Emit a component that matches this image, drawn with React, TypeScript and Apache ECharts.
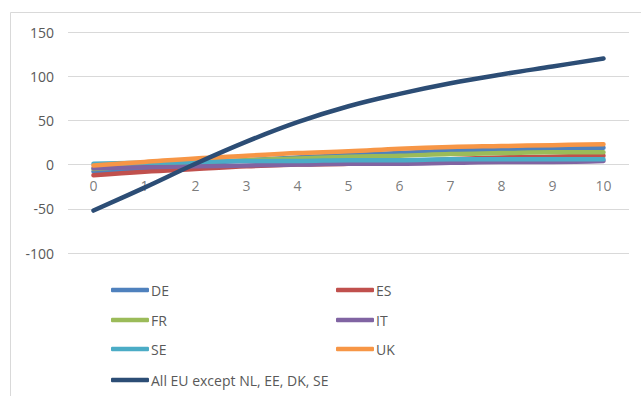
import React, { useEffect, useRef } from "react";
import * as echarts from "echarts";

const categories = ["0", "1", "2", "3", "4", "5", "6", "7", "8", "9", "10"];
const yTicks = [-100, -50, 0, 50, 100, 150];

const deValues = [-8, -4, 1, 5, 8, 11, 13, 16, 17, 18, 19];
const esValues = [-12, -8, -5, -2, 0, 1, 3, 6, 8, 9, 10];
const frValues = [-5, -1, 3, 5, 7, 9, 10, 12, 13, 14, 14];
const itValues = [-4, -3, -2, -1, 0, 1, 1, 2, 3, 3, 4];
const seValues = [1, 2, 3, 4, 4, 5, 5, 6, 6, 6, 6];
const ukValues = [-1, 3, 7, 10, 13, 15, 18, 20, 21, 22, 23];
const euValues = [-52, -26, 1, 26, 48, 66, 80, 92, 102, 111, 120];

const seriesNames = ["DE", "ES", "FR", "IT", "SE", "UK", "All EU except NL, EE, DK, SE"];
const seriesValues = [deValues, esValues, frValues, itValues, seValues, ukValues, euValues];
const seriesColors = ["#4F81BD", "#C0504D", "#9BBB59", "#8064A2", "#4BACC6", "#F79646", "#2C4D75"];

const FONT = "'Open Sans', 'Liberation Sans', sans-serif";
const TEXT_COLOR = "#595959";

// legend slot positions (left, top) for each series
const legendSlots: [number, number][] = [
  [111, 283],
  [336, 283],
  [111, 313],
  [336, 313],
  [111, 342],
  [336, 342],
  [111, 373],
];

export default function App() {
  const ref = useRef<HTMLDivElement>(null);

  useEffect(() => {
    if (!ref.current) return;
    const chart = echarts.init(ref.current, null, { renderer: "svg" });
    const lineSeries = seriesNames.map((name, i) => ({
      name,
      type: "line",
      data: seriesValues[i],
      smooth: 0.4,
      showSymbol: false,
      symbol: "none",
      color: seriesColors[i],
      lineStyle: { color: seriesColors[i], width: 4.5, cap: "round", join: "round" },
      itemStyle: { color: seriesColors[i] },
      z: 3,
    }));
    // category labels sitting on the zero line (Excel style axis crossing at 0)
    const zeroLabels = {
      name: "axis-labels",
      type: "scatter",
      silent: true,
      symbolSize: 0.1,
      itemStyle: { color: "rgba(0,0,0,0)" },
      data: categories.map((c) => ({ name: c, value: [c, 0] })),
      label: {
        show: true,
        position: "bottom",
        distance: 14,
        formatter: "{b}",
        color: TEXT_COLOR,
        fontSize: 14,
        fontFamily: FONT,
      },
      z: 1,
    };
    chart.setOption({
      animation: false,
      backgroundColor: "#ffffff",
      textStyle: { fontFamily: FONT },
      graphic: [
        {
          type: "rect",
          shape: { x: 10.5, y: 12.5, width: 660, height: 400 },
          style: { fill: "none", stroke: "#d9d9d9", lineWidth: 1 },
          silent: true,
          z: -1,
        },
      ],
      grid: { left: 68, right: 12, top: 32, bottom: 143, containLabel: false },
      xAxis: {
        type: "category",
        data: categories,
        boundaryGap: true,
        axisLine: { show: false },
        axisTick: { show: false },
        axisLabel: { show: false },
        splitLine: { show: false },
      },
      yAxis: {
        type: "value",
        min: yTicks[0],
        max: yTicks[yTicks.length - 1],
        interval: 50,
        axisLine: { show: false },
        axisTick: { show: false },
        axisLabel: { color: TEXT_COLOR, fontSize: 14, fontFamily: FONT, margin: 14 },
        splitLine: { lineStyle: { color: "#d9d9d9", width: 1 } },
      },
      legend: seriesNames.map((name, i) => ({
        data: [name],
        left: legendSlots[i][0],
        top: legendSlots[i][1],
        padding: 0,
        icon: "roundRect",
        itemWidth: 38,
        itemHeight: 4.5,
        selectedMode: false,
        textStyle: { color: TEXT_COLOR, fontSize: 14, fontFamily: FONT, padding: [0, 0, 0, -3] },
      })),
      series: [zeroLabels, ...lineSeries],
    });
    return () => chart.dispose();
  }, []);

  return (
    <div
      ref={ref}
      style={{ position: "fixed", left: 0, top: 0, width: 641, height: 396 }}
    />
  );
}
